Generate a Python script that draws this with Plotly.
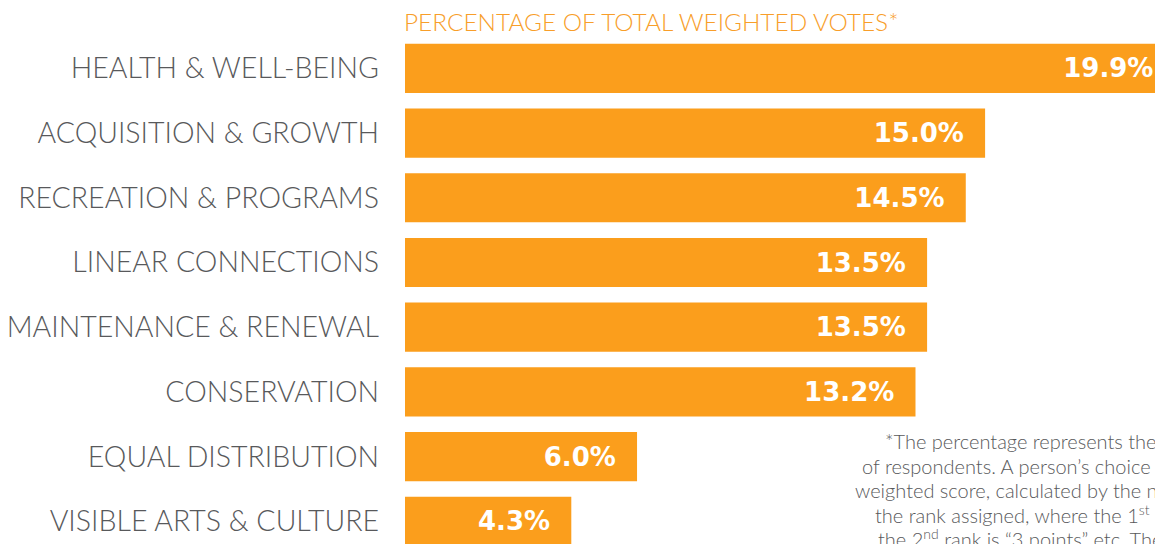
import plotly.graph_objects as go

categories = ["HEALTH & WELL-BEING", "ACQUISITION & GROWTH", "RECREATION & PROGRAMS",
              "LINEAR CONNECTIONS", "MAINTENANCE & RENEWAL", "CONSERVATION",
              "EQUAL DISTRIBUTION", "VISIBLE ARTS & CULTURE"]
values = [19.9, 15.0, 14.5, 13.5, 13.5, 13.2, 6.0, 4.3]
value_labels = ["19.9%", "15.0%", "14.5%", "13.5%", "13.5%", "13.2%", "6.0%", "4.3%"]

BAR = "#FB9E1C"
GRAY = "#58595B"
PAD = "\u2002\u2009"

fig = go.Figure(go.Bar(
    y=categories, x=values, orientation="h",
    marker=dict(color=BAR, line=dict(width=0)),
    width=0.76,
    text=[v + PAD for v in value_labels],
    textposition="inside", insidetextanchor="end",
    textfont=dict(family="DejaVu Sans", size=26, color="white", weight="bold"),
    cliponaxis=True,
    hoverinfo="skip",
))

# the page body has an 8px default margin; compensate so the chart fills the window
fig.update_layout(
    width=1155, height=536,
    margin=dict(l=397, r=0, t=28, b=0),
    paper_bgcolor="white", plot_bgcolor="white",
    showlegend=False,
    xaxis=dict(range=[0, 19.6], visible=False, fixedrange=True),
    yaxis=dict(range=[7.35, -0.5], showgrid=False, zeroline=False, showline=False,
               ticks="", ticklabelstandoff=25,
               tickfont=dict(family="Lato", size=28.5, color=GRAY, weight=300), fixedrange=True),
    uniformtext=dict(mode=False),
)

fig.add_annotation(text="PERCENTAGE OF TOTAL WEIGHTED VOTES*", xref="paper", yref="paper",
                   x=0, y=1, yshift=15, xshift=-3, xanchor="left", yanchor="middle", showarrow=False,
                   font=dict(family="Lato", size=24.4, color="#F89E2A", weight=300))

foot_lines = [
    (885, 441, "*The percentage represents the total weighted votes"),
    (862, 466, "of respondents. A person\u2019s choice is given a"),
    (855, 490, "weighted score, calculated by the number of"),
    (875, 514, "the rank assigned, where the 1<sup>st</sup> rank is \u201c4 points\u201d,"),
    (878, 538, "the 2<sup>nd</sup> rank is \u201c3 points\u201d etc. The"),
]
for px, py, t in foot_lines:
    fig.add_annotation(text=t, xref="paper", yref="paper",
                       x=(px - 405) / 758, y=1 - (py - 36) / 508, xshift=-2,
                       xanchor="left", yanchor="middle", showarrow=False,
                       font=dict(family="Lato", size=20, color=GRAY, weight=300))

fig.write_html("out.html")
